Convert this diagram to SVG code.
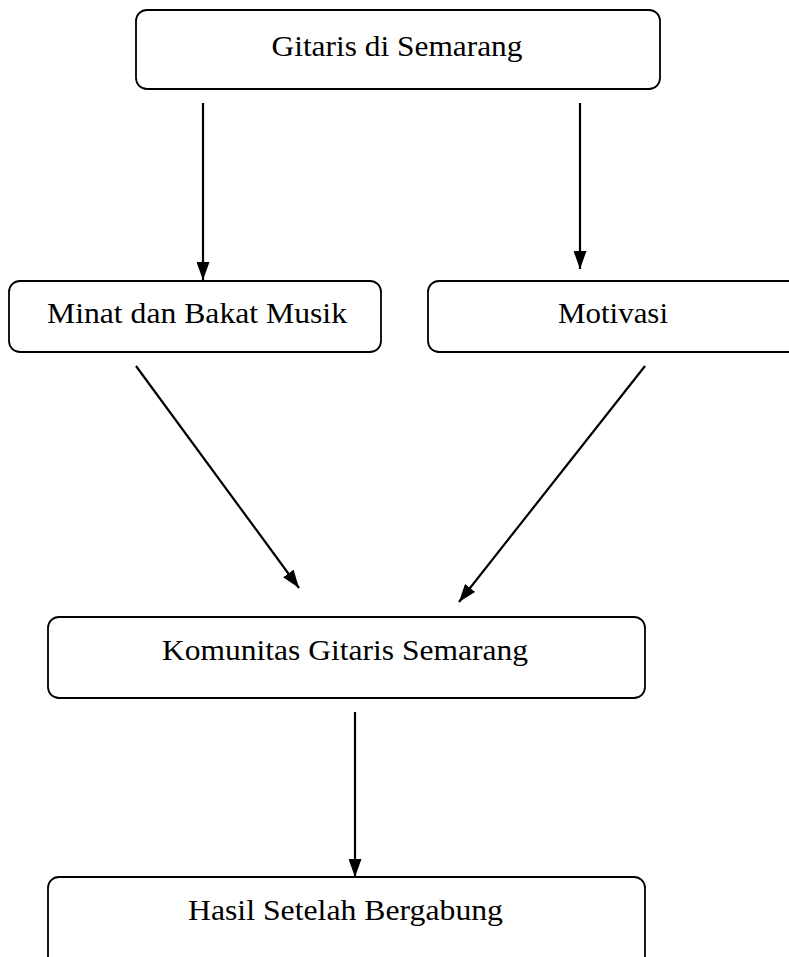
<svg xmlns="http://www.w3.org/2000/svg" width="789" height="957" viewBox="0 0 789 957">
<style>
.box{fill:#fff;stroke:#000;stroke-width:1.8}
.t{font-family:"Liberation Serif","Times New Roman",serif;font-size:29px;fill:#000;text-anchor:middle}
.c{stroke:#000;stroke-width:2.2;fill:none}
</style>
<defs>
<marker id="ah" markerWidth="18" markerHeight="13" refX="18" refY="6.5" orient="auto" markerUnits="userSpaceOnUse" viewBox="0 0 18 13">
<path d="M0,0 L18,6.5 L0,13 z" fill="#000"/>
</marker>
</defs>
<rect width="789" height="957" fill="#fff"/>
<g id="connectors">
<line class="c" x1="203" y1="103" x2="203" y2="280" marker-end="url(#ah)"/>
<line class="c" x1="580" y1="103" x2="580" y2="269" marker-end="url(#ah)"/>
<line class="c" x1="136" y1="366" x2="299" y2="588" marker-end="url(#ah)"/>
<line class="c" x1="645" y1="366" x2="459" y2="602" marker-end="url(#ah)"/>
<line class="c" x1="355" y1="712" x2="355" y2="877" marker-end="url(#ah)"/>
</g>
<g id="gitaris">
<rect class="box" x="136" y="10" width="524" height="79" rx="11"/>
<text class="t" x="397" y="56" textLength="251" lengthAdjust="spacingAndGlyphs">Gitaris di Semarang</text>
</g>
<g id="minat">
<rect class="box" x="9" y="281" width="372" height="71" rx="11"/>
<text class="t" x="197" y="323" textLength="300" lengthAdjust="spacingAndGlyphs">Minat dan Bakat Musik</text>
</g>
<g id="motivasi">
<rect class="box" x="428" y="281" width="372" height="71" rx="11"/>
<text class="t" x="613" y="323" textLength="110" lengthAdjust="spacingAndGlyphs">Motivasi</text>
</g>
<g id="komunitas">
<rect class="box" x="48" y="617" width="597" height="81" rx="11"/>
<text class="t" x="345" y="660" textLength="366" lengthAdjust="spacingAndGlyphs">Komunitas Gitaris Semarang</text>
</g>
<g id="hasil">
<rect class="box" x="48" y="877" width="597" height="90" rx="11"/>
<text class="t" x="345.5" y="920" textLength="315" lengthAdjust="spacingAndGlyphs">Hasil Setelah Bergabung</text>
</g>
</svg>
